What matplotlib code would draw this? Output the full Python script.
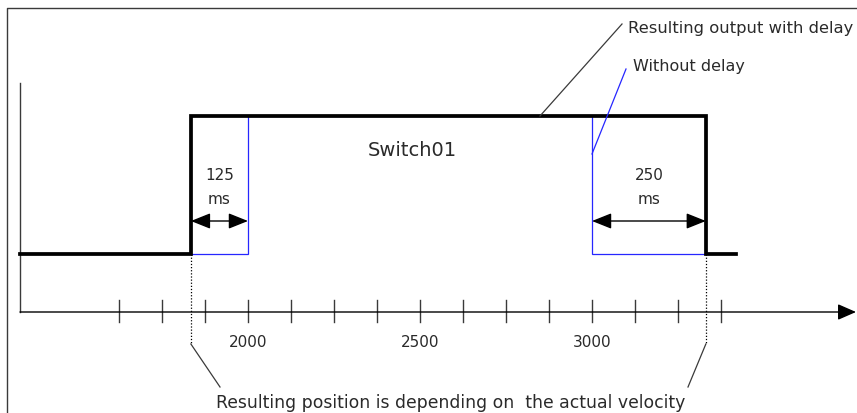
import matplotlib
matplotlib.use("Agg")
import matplotlib.pyplot as plt

# ---- data ----
tick_positions = [1625, 1750, 1875, 2000, 2125, 2250, 2375, 2500, 2625, 2750, 2875, 3000, 3125, 3250, 3375]
tick_labels = ["2000", "2500", "3000"]
label_positions = [2000, 2500, 3000]

delayed_x = [1337, 1834, 1834, 3331, 3331, 3419]
delayed_y = [0, 0, 1, 1, 0, 0]
nodelay_x = [1834, 2000, 2000, 3000, 3000, 3331]
nodelay_y = [0, 0, 1, 1, 0, 0]

delay_labels = ["125\nms", "250\nms"]
signal_name = "Switch01"

# ---- layout helpers (pixel -> axis units) ----
W, H = 857, 414
X0, XS = 1279.1, 0.344      # position at px 0, px per unit
def px(p):
    return X0 + p / XS
def py(p):
    return (255 - p) / 138.0

plt.rcParams['font.family'] = ['DejaVu Sans']

fig = plt.figure(figsize=(W / 100, H / 100), dpi=100)
ax = fig.add_axes([0, 0, 1, 1])
ax.set_xlim(px(0), px(W))
ax.set_ylim(py(H), py(0))
ax.axis("off")

TXT = "#2a2a2a"
AX = "#3a3a3a"
BLUE = "#2626ff"

# frame (cropped on right/bottom)
ax.plot([px(7), px(7), px(W + 5)], [py(H + 5), py(9), py(9)], color=AX, lw=1.0, solid_capstyle="butt")

# axes
axis_y = py(313)
ax.plot([px(20), px(20)], [py(84), axis_y], color=AX, lw=1.0)
ax.annotate("", xy=(px(856), axis_y), xytext=(px(20), axis_y),
            arrowprops=dict(arrowstyle="-|>,head_length=0.8,head_width=0.35", lw=1.0,
                            color="black", shrinkA=0, shrinkB=0, mutation_scale=14))
for t in tick_positions:
    ax.plot([t, t], [py(301), py(323)], color=AX, lw=1.0)
for t, lab in zip(label_positions, tick_labels):
    ax.text(t, py(343), lab, ha="center", va="center", fontsize=11, color=TXT)

# signals
ax.plot(nodelay_x, nodelay_y, color=BLUE, lw=0.9, solid_joinstyle="miter")
ax.plot(delayed_x, delayed_y, color="black", lw=2.7, solid_joinstyle="miter")

# dimension arrows
arr_y = py(222)
dims = [(delayed_x[1], nodelay_x[2]), (nodelay_x[4], delayed_x[4])]
for (a, b), lab in zip(dims, delay_labels):
    ax.annotate("", xy=(b, arr_y), xytext=(a, arr_y),
                arrowprops=dict(arrowstyle="<|-|>,head_length=1.0,head_width=0.4", lw=1.0,
                                color="black", shrinkA=0, shrinkB=0, mutation_scale=12))
    ax.text((a + b) / 2, py(187), lab, ha="center", va="center", fontsize=11,
            color=TXT, linespacing=1.75)

ax.text(px(412), py(150), signal_name, ha="center", va="center", fontsize=14, color=TXT)

# leader: resulting output
ax.plot([px(540), px(622)], [1, py(25)], color=AX, lw=0.9)
ax.text(px(628), py(28), "Resulting output with delay", ha="left", va="center",
        fontsize=11.8, color=TXT)
# leader: without delay
ax.plot([nodelay_x[3], px(626)], [py(155), py(70)], color=BLUE, lw=0.9)
ax.text(px(633), py(67), "Without delay", ha="left", va="center", fontsize=11.5, color=TXT)

# dotted projection lines and bottom note
for xe, xend in [(delayed_x[1], px(220)), (delayed_x[3], px(688))]:
    ax.plot([xe, xe], [0, py(345)], color="black", lw=0.9, ls=(0, (1, 1.5)))
    ax.plot([xe, xend], [py(345), py(388)], color=AX, lw=0.9)
ax.text(px(216), py(403), "Resulting position is depending on  the actual velocity",
        ha="left", va="center", fontsize=12.4, color=TXT)

fig.savefig("out.png", dpi=100)
